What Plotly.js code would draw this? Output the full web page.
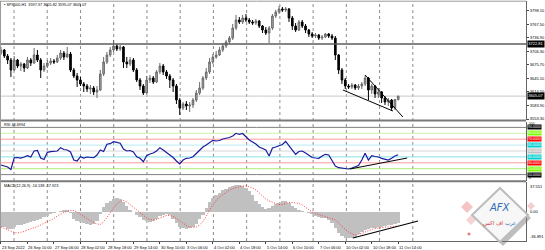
<!DOCTYPE html>
<html><head><meta charset="utf-8">
<script src="https://cdn.plot.ly/plotly-3.0.1.min.js"></script>
<style>html,body{margin:0;padding:0;background:#fff}#chart{width:545px;height:250px}</style>
</head><body><div id="chart"></div>
<script>
// ---------- data ----------
const openP = [3702.5,3709.3,3695.7,3686.7,3664.1,3686.7,3673.1,3677.7,3668.6,3686.7,
3679.9,3698.0,3686.7,3664.1,3673.1,3679.9,3684.4,3682.2,3691.2,3702.5,
3693.5,3700.3,3664.1,3650.5,3641.5,3632.5,3627.9,3621.2,3623.4,3614.4,
3618.9,3655.1,3682.2,3698.0,3709.3,3718.3,3711.6,3716.1,3682.2,3677.7,
3686.7,3664.1,3641.5,3627.9,3612.1,3641.5,3646.0,3637.0,3659.6,3673.1,
3659.6,3650.5,3641.5,3627.9,3596.3,3578.2,3587.3,3582.7,3585.0,3596.3,
3612.1,3623.4,3646.0,3659.6,3682.2,3693.5,3698.0,3709.3,3718.3,3727.4,
3736.4,3759.0,3777.1,3772.6,3781.6,3777.1,3772.6,3770.3,3774.8,3763.5,
3754.5,3747.7,3759.0,3786.1,3795.2,3802.0,3799.7,3802.0,3781.6,3763.5,
3754.5,3772.6,3763.5,3754.5,3745.5,3740.9,3743.2,3736.4,3738.7,3745.5,
3740.9,3736.4,3698.0,3664.1,3641.5,3627.9,3625.7,3630.2,3623.4,3627.9,
3632.5,3646.0,3618.9,3627.9,3609.9,3614.4,3600.8,3591.8,3596.3,3578.2,3597.37];
const highP = [3716.1,3711.6,3700.3,3691.2,3695.7,3689.0,3682.2,3679.9,3693.5,3691.2,
3713.8,3709.3,3691.2,3679.9,3686.7,3691.2,3689.0,3698.0,3709.3,3707.0,
3716.1,3704.8,3668.6,3657.3,3648.3,3637.0,3632.5,3630.2,3627.9,3627.9,
3664.1,3693.5,3704.8,3716.1,3731.9,3722.9,3720.6,3718.3,3693.5,3693.5,
3691.2,3668.6,3646.0,3632.5,3650.5,3652.8,3650.5,3664.1,3679.9,3677.7,
3664.1,3655.1,3646.0,3632.5,3600.8,3591.8,3594.0,3591.8,3600.8,3618.9,
3637.0,3650.5,3668.6,3691.2,3700.3,3707.0,3716.1,3725.1,3731.9,3740.9,
3768.1,3788.4,3783.9,3788.4,3790.7,3781.6,3777.1,3779.4,3777.1,3765.8,
3761.3,3763.5,3790.7,3799.7,3808.7,3806.5,3806.5,3804.2,3786.1,3770.3,
3777.1,3777.1,3768.1,3756.8,3750.0,3747.7,3745.5,3743.2,3747.7,3747.7,
3745.5,3740.9,3700.3,3668.6,3646.0,3632.5,3634.7,3632.5,3632.5,3637.0,
3652.8,3648.3,3632.5,3630.2,3623.4,3616.6,3605.3,3600.8,3598.6,3598.6,3605.82];
const lowP = [3698.0,3691.2,3677.7,3648.3,3661.8,3668.6,3661.8,3659.6,3666.4,3673.1,
3677.7,3682.2,3646.0,3659.6,3668.6,3675.4,3677.7,3679.9,3686.7,3686.7,
3691.2,3659.6,3646.0,3625.7,3627.9,3614.4,3614.4,3609.9,3607.6,3600.8,
3616.6,3650.5,3677.7,3693.5,3704.8,3707.0,3707.0,3668.6,3668.6,3673.1,
3659.6,3637.0,3618.9,3607.6,3609.9,3634.7,3632.5,3634.7,3655.1,3652.8,
3643.8,3623.4,3614.4,3587.3,3562.4,3573.7,3573.7,3569.2,3578.2,3591.8,
3607.6,3618.9,3641.5,3655.1,3677.7,3689.0,3695.7,3704.8,3713.8,3722.9,
3731.9,3754.5,3768.1,3768.1,3772.6,3768.1,3765.8,3765.8,3759.0,3747.7,
3743.2,3725.1,3754.5,3781.6,3790.7,3795.2,3795.2,3772.6,3754.5,3750.0,
3752.2,3759.0,3747.7,3738.7,3736.4,3736.4,3731.9,3731.9,3736.4,3736.4,
3731.9,3686.7,3655.1,3632.5,3621.2,3621.2,3621.2,3618.9,3618.9,3621.2,
3627.9,3596.3,3609.9,3600.8,3600.8,3589.5,3585.0,3582.7,3571.4,3573.7,3595.07];
const closeP = [3709.3,3695.7,3686.7,3664.1,3686.7,3673.1,3677.7,3668.6,3686.7,3679.9,
3698.0,3686.7,3664.1,3673.1,3679.9,3684.4,3682.2,3691.2,3702.5,3693.5,
3700.3,3664.1,3650.5,3641.5,3632.5,3627.9,3621.2,3623.4,3614.4,3618.9,
3655.1,3682.2,3698.0,3709.3,3718.3,3711.6,3716.1,3682.2,3677.7,3686.7,
3664.1,3641.5,3627.9,3612.1,3641.5,3646.0,3637.0,3659.6,3673.1,3659.6,
3650.5,3641.5,3627.9,3596.3,3578.2,3587.3,3582.7,3585.0,3596.3,3612.1,
3623.4,3646.0,3659.6,3682.2,3693.5,3698.0,3709.3,3718.3,3727.4,3736.4,
3759.0,3777.1,3772.6,3781.6,3777.1,3772.6,3770.3,3774.8,3763.5,3754.5,
3747.7,3759.0,3786.1,3795.2,3802.0,3799.7,3802.0,3781.6,3763.5,3754.5,
3772.6,3763.5,3754.5,3745.5,3740.9,3743.2,3736.4,3738.7,3745.5,3740.9,
3736.4,3698.0,3664.1,3641.5,3627.9,3625.7,3630.2,3623.4,3627.9,3632.5,
3646.0,3618.9,3627.9,3609.9,3614.4,3600.8,3591.8,3596.3,3578.2,3597.4,3605.07];
const rsiValues = [26.3,24.6,22.9,18.6,38.6,39.0,38.1,39.8,42.0,39.8,
50.0,50.8,38.1,35.6,47.8,48.8,48.8,50.0,55.6,52.5,
51.7,48.3,34.7,33.1,40.3,38.1,39.8,39.0,38.6,43.2,
51.7,49.2,61.4,62.4,65.8,64.7,63.1,53.4,50.0,50.8,
48.3,40.3,37.6,31.9,42.0,44.9,46.6,50.0,55.6,51.7,
47.5,44.1,39.0,33.1,28.0,34.7,37.6,38.1,40.3,45.8,
51.7,56.8,60.2,64.4,68.1,67.0,67.8,70.3,71.5,72.9,
75.4,80.0,78.3,79.7,74.2,68.6,65.3,61.9,56.8,54.6,
51.7,41.5,55.1,56.8,58.5,61.0,66.1,58.5,50.0,44.4,
49.2,50.0,46.6,43.2,39.0,38.1,37.6,41.5,44.4,43.2,
34.7,24.6,21.7,20.7,20.3,19.5,21.2,23.4,25.4,34.7,
46.1,34.7,42.0,40.7,39.8,37.6,35.6,34.7,37.6,41.5,43.7];
const macdMain = [-18.8,-19.8,-21.5,-22.3,-19.2,-17.3,-16.4,-15.8,-14.1,-12.9,
-12.0,-10.3,-9.1,-7.2,-5.3,-3.2,-1.5,0.0,1.3,2.0,
2.3,-2.1,-8.5,-11.6,-13.5,-14.4,-15.4,-16.7,-16.0,-11.6,
-2.8,6.1,11.1,13.6,15.5,17.0,16.2,12.0,7.3,2.5,
-0.6,-4.0,-7.2,-10.3,-12.0,-12.5,-11.6,-9.1,-5.9,-4.0,
-3.4,-3.8,-8.5,-14.1,-18.6,-20.4,-21.7,-21.1,-18.6,-15.4,
-9.1,-4.0,4.8,12.4,16.8,20.6,23.7,26.9,28.8,31.3,
32.6,33.8,33.8,32.6,30.0,25.6,20.6,13.6,9.2,5.4,
3.5,4.8,7.3,9.2,11.1,13.0,13.6,10.5,6.7,4.8,
2.5,1.3,0.0,-1.5,-3.4,-4.9,-6.9,-7.8,-8.2,-11.0,
-14.1,-20.8,-26.8,-30.5,-32.7,-33.3,-33.4,-31.4,-28.6,-25.5,
-23.0,-21.7,-21.1,-20.1,-19.4,-18.6,-17.9,-17.3,-16.7,-15.4,-14.138];
const macdSignal = [-19.2,-21.1,-23.0,-24.9,-26.1,-26.8,-26.1,-24.9,-23.0,-21.7,
-20.4,-18.6,-16.7,-14.8,-12.9,-11.0,-8.5,-5.3,-2.8,-0.9,
0.6,1.6,1.6,-0.3,-3.4,-6.2,-8.5,-11.0,-13.5,-15.4,
-16.0,-12.9,-7.8,-1.5,4.8,9.8,13.0,14.3,12.4,9.2,
6.1,2.3,-1.5,-4.7,-7.8,-9.7,-10.3,-9.7,-7.8,-5.9,
-4.7,-4.7,-5.9,-8.5,-11.6,-14.8,-17.3,-19.2,-19.8,-19.2,
-16.7,-12.2,-5.9,2.3,8.6,14.3,18.7,21.8,25.0,27.5,
29.4,30.7,31.9,32.6,32.9,31.9,30.0,27.5,23.7,19.9,
16.2,13.6,11.7,10.5,9.2,9.2,10.5,11.7,11.7,11.1,
10.5,8.6,5.4,2.3,-0.3,-2.1,-3.4,-4.7,-5.9,-7.2,
-8.5,-10.3,-14.1,-18.6,-22.3,-25.5,-28.0,-29.3,-28.6,-27.4,
-25.5,-23.6,-22.3,-21.1,-20.4,-19.8,-19.2,-18.9,-18.6,-18.2,-17.923];
const timeLabels = ["23 Sep 2022","26 Sep 10:00","27 Sep 06:00","28 Sep 02:00","28 Sep 18:00","29 Sep 14:00","30 Sep 10:00","3 Oct 06:00","4 Oct 02:00","4 Oct 18:00","5 Oct 14:00","6 Oct 10:00","7 Oct 06:00","10 Oct 02:00","10 Oct 18:00","11 Oct 14:00"];
const timeLabelBars = [0,8,16,24,32,40,48,56,64,72,80,88,96,104,112,120];
const priceTicks = [3798.10,3767.50,3736.90,3706.30,3675.70,3645.10,3614.50,3583.90,3553.30];
const resistanceLevel = 3722.81;
const lastPrice = 3605.07;
const rsiLevels = [90,80,70,60,50,40,30,20,10];
const macdMaxLabel = 37.551, macdMinLabel = -36.891;
const wedgeUpperBars = [110,121.4], wedgeUpperPrices = [3652.8,3557.9];
const wedgeLowerBars = [103.3,118.4], wedgeLowerPrices = [3618.9,3571.4];
const rsiTrendBars = [105.4,122.7], rsiTrendValues = [19.5,38.1];
const macdTrendBars = [106.3,126], macdTrendValues = [-33.1,-11.65];
const titleText = "SPX500,H1  3597.37 3605.82 3595.07 3605.07";
const rsiTitle = "RSI 43.6994";
const macdTitle = "MACD(12,26,9) -14.138 -17.923";

// ---------- styling ----------
const FONT = "Liberation Sans, Arial, sans-serif";
const bars = closeP.map((_, i) => i);
const PW = 526, PB = 241, PH = 240;
const X = px => px / PW;
const Y = py => (PB - py) / PH;
const levelLineColors = ['#808080','#cdf3a8','#ff9a9a','#b8ecf2','#d6d6d6','#86e2e8','#ff9a9a','#aeea78','#808080'];
const levelBoxColors = ['#000000','#7cfc00','#ff0000','#00ced1','#c0c0c0','#00ced1','#ff0000','#7cfc00','#000000'];

const traces = [
  {type:'candlestick', x:bars, open:openP, high:highP, low:lowP, close:closeP, xaxis:'x', yaxis:'y',
   increasing:{line:{color:'#6a6a6a', width:1}, fillcolor:'#a8a8a8'},
   decreasing:{line:{color:'#000000', width:1}, fillcolor:'#000000'},
   whiskerwidth:0, hoverinfo:'skip'},
  {type:'scatter', mode:'lines', x:wedgeUpperBars, y:wedgeUpperPrices, xaxis:'x', yaxis:'y', line:{color:'#000', width:1}},
  {type:'scatter', mode:'lines', x:wedgeLowerBars, y:wedgeLowerPrices, xaxis:'x', yaxis:'y', line:{color:'#000', width:1}},
  {type:'scatter', mode:'lines', x:bars, y:rsiValues, xaxis:'x', yaxis:'y2', line:{color:'#1a1aa0', width:1.2}},
  {type:'scatter', mode:'lines', x:rsiTrendBars, y:rsiTrendValues, xaxis:'x', yaxis:'y2', line:{color:'#000', width:1}},
  {type:'bar', x:bars, y:macdMain, xaxis:'x', yaxis:'y3', width:1.02, marker:{color:'#c0c0c0', line:{width:0}}},
  {type:'scatter', mode:'lines', x:bars, y:macdSignal, xaxis:'x', yaxis:'y3', line:{color:'#ff2a2a', width:0.9, dash:'1px,1.6px'}},
  {type:'scatter', mode:'lines', x:macdTrendBars, y:macdTrendValues, xaxis:'x', yaxis:'y3', line:{color:'#000', width:1.2}}
];

const shapes = [];
for (let k = 0; k < 13; k++) {
  const gx = 3.93 + 10.04 * k;
  shapes.push({type:'line', xref:'x', yref:'paper', x0:gx, x1:gx, y0:0, y1:1, line:{color:'#8c8c8c', width:1, dash:'dot'}, layer:'below'});
}
shapes.push({type:'line', xref:'paper', yref:'y', x0:0, x1:1, y0:resistanceLevel, y1:resistanceLevel, line:{color:'#5c5c5c', width:1.6}});
shapes.push({type:'line', xref:'paper', yref:'y', x0:0, x1:1, y0:lastPrice, y1:lastPrice, line:{color:'#c8c8c8', width:1}, layer:'below'});
rsiLevels.forEach((lv, i) => shapes.push({type:'line', xref:'paper', yref:'y2', x0:0, x1:1, y0:lv, y1:lv, line:{color:levelLineColors[i], width:1}, layer:'below'}));
shapes.push({type:'line', xref:'paper', yref:'paper', x0:0, x1:1, y0:Y(120.6), y1:Y(120.6), line:{color:'#7a7a7a', width:2}});
shapes.push({type:'line', xref:'paper', yref:'paper', x0:0, x1:1, y0:Y(181.2), y1:Y(181.2), line:{color:'#7a7a7a', width:2}});
shapes.push({type:'line', xref:'paper', yref:'paper', x0:0, x1:1, y0:Y(1.2), y1:Y(1.2), line:{color:'#9a9a9a', width:1}});
shapes.push({type:'line', xref:'paper', yref:'paper', x0:X(0.5), x1:X(0.5), y0:0, y1:1, line:{color:'#9a9a9a', width:1}});

function diamond(cx, cy, hx, hy) {
  return `M ${X(cx)} ${Y(cy-hy)} L ${X(cx+hx)} ${Y(cy)} L ${X(cx)} ${Y(cy+hy)} L ${X(cx-hx)} ${Y(cy)} Z`;
}
shapes.push({type:'path', xref:'paper', yref:'paper', path:diamond(467,207,6,6), fillcolor:'rgba(236,150,150,0.55)', line:{width:0}});
shapes.push({type:'path', xref:'paper', yref:'paper', path:diamond(471,220,5,5), fillcolor:'rgba(236,160,160,0.45)', line:{width:0}});
shapes.push({type:'path', xref:'paper', yref:'paper', path:diamond(469,234,1.8,1.8), fillcolor:'rgba(220,80,80,0.8)', line:{width:0}});
shapes.push({type:'path', xref:'paper', yref:'paper', path:diamond(531,206,4,4), fillcolor:'rgba(236,160,160,0.5)', line:{width:0}});
shapes.push({type:'path', xref:'paper', yref:'paper', path:diamond(503,218,28,28), fillcolor:'rgba(110,110,110,0.45)', line:{width:0}});
shapes.push({type:'path', xref:'paper', yref:'paper', path:diamond(500,215,28,27), fillcolor:'#f7f7f7', line:{color:'#bcbcbc', width:2}});

const annotations = [];
const small = {family:FONT, size:4, color:'#000'};
annotations.push({xref:'paper', yref:'paper', x:X(2), y:Y(5), xanchor:'left', yanchor:'middle', showarrow:false, text:'\u25AA ' + titleText, font:{family:FONT, size:3.8, color:'#000'}});
annotations.push({xref:'paper', yref:'paper', x:X(2), y:Y(125), xanchor:'left', yanchor:'middle', showarrow:false, text:rsiTitle, font:{family:FONT, size:3.8, color:'#000'}});
annotations.push({xref:'paper', yref:'paper', x:X(2), y:Y(185.5), xanchor:'left', yanchor:'middle', showarrow:false, text:macdTitle, font:{family:FONT, size:3.8, color:'#000'}});
timeLabelBars.forEach((b, i) => annotations.push({xref:'x', yref:'paper', x:b, y:0, xanchor:'left', yanchor:'top', yshift:-1.5, xshift:-1, showarrow:false, text:timeLabels[i], font:small}));
[[resistanceLevel,'3722.81'],[lastPrice,'3605.07']].forEach(([v,t]) => annotations.push({xref:'paper', yref:'y', x:1, y:v, xanchor:'left', yanchor:'middle', xshift:0.5, showarrow:false, text:t, bgcolor:'#000', borderpad:0.3, font:{family:FONT, size:4, color:'#fff'}}));
annotations.push({xref:'paper', yref:'y2', x:1, y:100, xanchor:'left', yanchor:'top', xshift:2, yshift:0.8, showarrow:false, text:'100', font:{family:FONT, size:3.3, color:'#000'}, borderpad:0});
annotations.push({xref:'paper', yref:'y2', x:1, y:0, xanchor:'left', yanchor:'bottom', xshift:2, yshift:-0.8, showarrow:false, text:'0', font:{family:FONT, size:3.3, color:'#000'}, borderpad:0});
rsiLevels.forEach((lv, i) => annotations.push({xref:'paper', yref:'y2', x:1, y:lv, xanchor:'left', yanchor:'middle', xshift:0.5, showarrow:false, text:lv.toFixed(4), bgcolor:levelBoxColors[i], borderpad:0, font:{family:FONT, size:3.5, color:'#fff'}}));
annotations.push({xref:'paper', yref:'y3', x:1, y:macdMaxLabel, xanchor:'left', yanchor:'top', xshift:2, showarrow:false, text:macdMaxLabel.toFixed(3), font:small});
annotations.push({xref:'paper', yref:'y3', x:1, y:0, xanchor:'left', yanchor:'middle', xshift:2, showarrow:false, text:'0.00', font:small});
annotations.push({xref:'paper', yref:'y3', x:1, y:macdMinLabel, xanchor:'left', yanchor:'bottom', xshift:2, showarrow:false, text:macdMinLabel.toFixed(3), font:small});
annotations.push({xref:'paper', yref:'paper', x:X(500), y:Y(207), xanchor:'center', yanchor:'middle', showarrow:false, text:'<i>AFX</i>', font:{family:'DejaVu Sans, sans-serif', size:10, color:'#2f6db5'}});
annotations.push({xref:'paper', yref:'paper', x:X(499), y:Y(223), xanchor:'center', yanchor:'middle', showarrow:false, text:'<span style="color:#2f6db5">عرب</span> اف اكس', font:{family:'DejaVu Sans, sans-serif', size:5.5, color:'#d03a3a'}});

const axisLine = {showline:true, linecolor:'#666', linewidth:1, zeroline:false, showgrid:false, fixedrange:true};
const layout = {
  width:545, height:250, margin:{l:0, r:19, t:1, b:9, pad:0},
  paper_bgcolor:'#fff', plot_bgcolor:'#fff', showlegend:false, bargap:0,
  font:{family:FONT, size:4, color:'#000'},
  xaxis:Object.assign({}, axisLine, {range:[-0.3,158.6], anchor:'y3', tickvals:timeLabelBars, showticklabels:false, ticks:'outside', ticklen:2, tickcolor:'#444', rangeslider:{visible:false}}),
  yaxis:Object.assign({}, axisLine, {domain:[Y(120), 1], range:[3551.1,3820.0], side:'right', anchor:'x', tickvals:priceTicks, ticktext:priceTicks.map(v=>v.toFixed(2)), ticks:'outside', ticklen:2, tickcolor:'#444', tickfont:{family:FONT, size:4, color:'#000'}}),
  yaxis2:Object.assign({}, axisLine, {domain:[Y(180.5), Y(121.5)], range:[0,100], side:'right', anchor:'x', showticklabels:false}),
  yaxis3:Object.assign({}, axisLine, {domain:[0, Y(182)], range:[macdMinLabel, macdMaxLabel], side:'right', anchor:'x', showticklabels:false}),
  shapes:shapes, annotations:annotations
};
Plotly.newPlot('chart', traces, layout, {staticPlot:true, displayModeBar:false});
</script>
</body></html>
